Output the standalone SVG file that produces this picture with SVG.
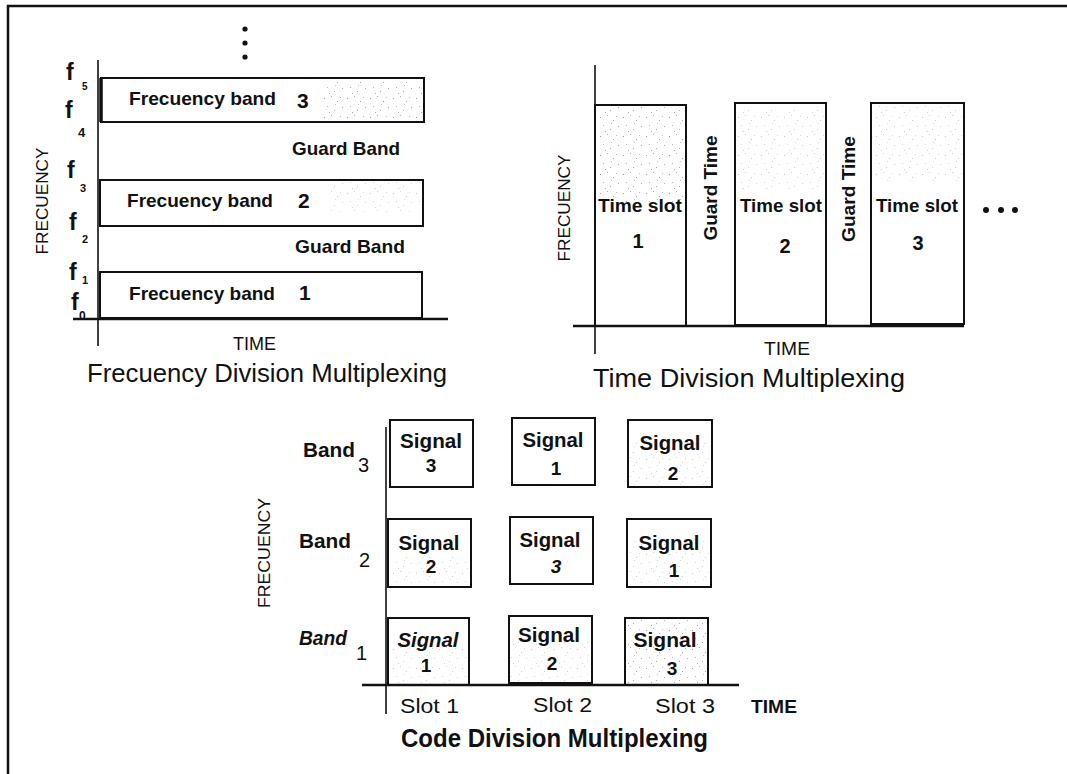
<svg xmlns="http://www.w3.org/2000/svg" width="1067" height="774" viewBox="0 0 1067 774">
<style>
.box{fill:none;stroke:#111;stroke-width:2}
.ax{stroke:#111;stroke-width:1.6;fill:none}
.axh{stroke:#111;stroke-width:2.6;fill:none}
.frame{stroke:#111;stroke-width:2.5;fill:none}
.b{font-family:"Liberation Sans",Arial,sans-serif;font-weight:bold;fill:#111}
.r{font-family:"Liberation Sans",Arial,sans-serif;fill:#111}
.spk{fill:url(#sp);stroke:none}
.spl{fill:url(#sp);stroke:none;opacity:0.55}
</style>
<defs>
<pattern id="sp" width="23" height="19" patternUnits="userSpaceOnUse">
<rect x="2" y="3" width="1" height="1" fill="#9a9a9a"/>
<rect x="9" y="1" width="1" height="1" fill="#b0b0b0"/>
<rect x="15" y="6" width="1" height="1" fill="#a0a0a0"/>
<rect x="20" y="12" width="1" height="1" fill="#aaa"/>
<rect x="5" y="11" width="1" height="1" fill="#b5b5b5"/>
<rect x="12" y="15" width="1" height="1" fill="#a5a5a5"/>
<rect x="18" y="2" width="1" height="1" fill="#bbb"/>
<rect x="7" y="17" width="1" height="1" fill="#aaa"/>
<rect x="13" y="9" width="1" height="1" fill="#c0c0c0"/>
</pattern>
</defs>

<g id="frame">
<polyline class="frame" points="8,774 8,6 1067,6"/>
</g>

<g id="axes">
<line class="ax" x1="98" y1="60" x2="98" y2="346"/>
<line class="axh" x1="73" y1="319" x2="448" y2="319"/>
<line class="ax" x1="595" y1="65" x2="595" y2="354"/>
<line class="axh" x1="573" y1="326" x2="964" y2="326"/>
<line class="ax" x1="386" y1="427" x2="386" y2="714"/>
<line class="axh" x1="362" y1="685" x2="739" y2="685"/>
</g>

<g id="fdm">
<g id="fdm-dots">
<circle cx="245" cy="29" r="2.6" fill="#111"/>
<circle cx="245" cy="43" r="2.6" fill="#111"/>
<circle cx="245" cy="57" r="2.6" fill="#111"/>
</g>
<g id="fdm-band3">
<rect class="spk" x="320" y="80" width="102" height="40"/>
<rect class="box" x="101" y="78" width="323" height="44"/>
<line x1="101" y1="78" x2="101" y2="122" stroke="#111" stroke-width="3.5"/>
<text class="b" x="129" y="105" font-size="19" textLength="147" lengthAdjust="spacingAndGlyphs">Frecuency band</text>
<text class="b" x="297" y="108" font-size="21">3</text>
</g>
<g id="fdm-guard2">
<text class="b" x="292" y="155" font-size="19" textLength="108" lengthAdjust="spacingAndGlyphs">Guard Band</text>
</g>
<g id="fdm-band2">
<rect class="spl" x="330" y="182" width="90" height="30"/>
<rect class="box" x="100" y="180" width="323" height="46"/>
<text class="b" x="127" y="207" font-size="19" textLength="146" lengthAdjust="spacingAndGlyphs">Frecuency band</text>
<text class="b" x="298" y="208" font-size="21">2</text>
</g>
<g id="fdm-guard1">
<text class="b" x="295" y="253" font-size="19" textLength="110" lengthAdjust="spacingAndGlyphs">Guard Band</text>
</g>
<g id="fdm-band1">
<rect class="box" x="100" y="272" width="322" height="46"/>
<text class="b" x="129" y="300" font-size="19" textLength="146" lengthAdjust="spacingAndGlyphs">Frecuency band</text>
<text class="b" x="299" y="300" font-size="21">1</text>
</g>
<g id="fdm-flabels">
<text class="b" x="66" y="80" font-size="23">f</text><text class="b" x="82" y="90" font-size="10">5</text>
<text class="b" x="65" y="118" font-size="23">f</text><text class="b" x="78" y="137" font-size="13">4</text>
<text class="b" x="67" y="178" font-size="23">f</text><text class="b" x="80" y="192" font-size="11">3</text>
<text class="b" x="69" y="230" font-size="23">f</text><text class="b" x="82" y="243" font-size="11">2</text>
<text class="b" x="69" y="280" font-size="23">f</text><text class="b" x="82" y="284" font-size="11">1</text>
<text class="b" x="71" y="310" font-size="23">f</text><text class="b" x="79" y="320" font-size="12">0</text>
</g>
<text class="r" transform="translate(42,201) rotate(-90)" y="6" text-anchor="middle" font-size="17" textLength="107" lengthAdjust="spacingAndGlyphs">FRECUENCY</text>
<text class="r" x="233" y="350" font-size="18" textLength="43" lengthAdjust="spacingAndGlyphs">TIME</text>
<text class="r" x="87" y="382" font-size="26" textLength="360" lengthAdjust="spacingAndGlyphs">Frecuency Division Multiplexing</text>
</g>

<g id="tdm">
<g id="tdm-slot1">
<rect class="spk" x="597" y="107" width="87" height="95"/>
<rect class="spk" x="600" y="110" width="80" height="40"/>
<rect class="box" x="595" y="105" width="91" height="221"/>
<text class="b" x="640" y="212" font-size="19" text-anchor="middle" textLength="84" lengthAdjust="spacingAndGlyphs">Time slot</text>
<text class="b" x="638" y="248" font-size="20" text-anchor="middle">1</text>
</g>
<g id="tdm-guard1">
<text class="b" transform="translate(710,188) rotate(-90)" y="7" text-anchor="middle" font-size="19" textLength="105" lengthAdjust="spacingAndGlyphs">Guard Time</text>
</g>
<g id="tdm-slot2">
<rect class="spl" x="737" y="110" width="87" height="80"/>
<rect class="box" x="735" y="103" width="91" height="222"/>
<text class="b" x="781" y="212" font-size="19" text-anchor="middle" textLength="82" lengthAdjust="spacingAndGlyphs">Time slot</text>
<text class="b" x="785" y="253" font-size="20" text-anchor="middle">2</text>
</g>
<g id="tdm-guard2">
<text class="b" transform="translate(848,189) rotate(-90)" y="7" text-anchor="middle" font-size="19" textLength="106" lengthAdjust="spacingAndGlyphs">Guard Time</text>
</g>
<g id="tdm-slot3">
<rect class="spl" x="873" y="106" width="89" height="75"/>
<rect class="box" x="871" y="103" width="93" height="221"/>
<text class="b" x="917" y="212" font-size="19" text-anchor="middle" textLength="82" lengthAdjust="spacingAndGlyphs">Time slot</text>
<text class="b" x="918" y="250" font-size="20" text-anchor="middle">3</text>
</g>
<g id="tdm-more">
<circle cx="986" cy="210" r="3" fill="#111"/>
<circle cx="1001" cy="210" r="3" fill="#111"/>
<circle cx="1015" cy="210" r="3" fill="#111"/>
</g>
<text class="r" transform="translate(564,208) rotate(-90)" y="6" text-anchor="middle" font-size="17" textLength="107" lengthAdjust="spacingAndGlyphs">FRECUENCY</text>
<text class="r" x="764" y="355" font-size="18" textLength="46" lengthAdjust="spacingAndGlyphs">TIME</text>
<text class="r" x="593" y="387" font-size="26" textLength="312" lengthAdjust="spacingAndGlyphs">Time Division Multiplexing</text>
</g>

<g id="cdm">
<g id="cdm-b3s1">
<rect class="box" x="390" y="420" width="83" height="67"/>
<text class="b" x="431" y="448" font-size="20" text-anchor="middle" textLength="62" lengthAdjust="spacingAndGlyphs">Signal</text>
<text class="b" x="431" y="472" font-size="19" text-anchor="middle">3</text>
</g>
<g id="cdm-b3s2">
<rect class="box" x="512" y="418" width="83" height="67"/>
<text class="b" x="553" y="447" font-size="20" text-anchor="middle" textLength="61" lengthAdjust="spacingAndGlyphs">Signal</text>
<text class="b" x="556" y="475" font-size="19" text-anchor="middle">1</text>
</g>
<g id="cdm-b3s3">
<rect class="spl" x="630" y="440" width="80" height="45"/>
<rect class="box" x="628" y="420" width="84" height="67"/>
<text class="b" x="670" y="450" font-size="20" text-anchor="middle" textLength="61" lengthAdjust="spacingAndGlyphs">Signal</text>
<text class="b" x="673" y="480" font-size="19" text-anchor="middle">2</text>
</g>
<g id="cdm-b2s1">
<rect class="spl" x="390" y="555" width="78" height="30"/>
<rect class="box" x="388" y="519" width="83" height="68"/>
<text class="b" x="429" y="550" font-size="20" text-anchor="middle" textLength="61" lengthAdjust="spacingAndGlyphs">Signal</text>
<text class="b" x="431" y="573" font-size="19" text-anchor="middle">2</text>
</g>
<g id="cdm-b2s2">
<rect class="box" x="510" y="517" width="83" height="67"/>
<text class="b" x="550" y="547" font-size="20" text-anchor="middle" textLength="61" lengthAdjust="spacingAndGlyphs">Signal</text>
<text class="b" x="556" y="573" font-size="19" text-anchor="middle" font-style="italic">3</text>
</g>
<g id="cdm-b2s3">
<rect class="spl" x="629" y="540" width="80" height="45"/>
<rect class="box" x="627" y="519" width="84" height="68"/>
<text class="b" x="669" y="550" font-size="20" text-anchor="middle" textLength="61" lengthAdjust="spacingAndGlyphs">Signal</text>
<text class="b" x="674" y="577" font-size="19" text-anchor="middle">1</text>
</g>
<g id="cdm-b1s1">
<rect class="spl" x="390" y="640" width="77" height="43"/>
<rect class="box" x="388" y="618" width="81" height="67"/>
<text class="b" x="428" y="647" font-size="20" text-anchor="middle" font-style="italic" textLength="61" lengthAdjust="spacingAndGlyphs">Signal</text>
<text class="b" x="426" y="672" font-size="19" text-anchor="middle">1</text>
</g>
<g id="cdm-b1s2">
<rect class="spl" x="511" y="640" width="79" height="41"/>
<rect class="box" x="509" y="616" width="83" height="67"/>
<text class="b" x="549" y="642" font-size="20" text-anchor="middle" textLength="62" lengthAdjust="spacingAndGlyphs">Signal</text>
<text class="b" x="552" y="670" font-size="19" text-anchor="middle">2</text>
</g>
<g id="cdm-b1s3">
<rect class="spk" x="627" y="620" width="79" height="63"/>
<rect class="spk" x="650" y="650" width="55" height="33"/>
<rect class="box" x="625" y="618" width="83" height="67"/>
<text class="b" x="665" y="647" font-size="20" text-anchor="middle" textLength="63" lengthAdjust="spacingAndGlyphs">Signal</text>
<text class="b" x="672" y="675" font-size="19" text-anchor="middle">3</text>
</g>
<g id="cdm-bands">
<text class="b" x="303" y="457" font-size="20" textLength="52" lengthAdjust="spacingAndGlyphs">Band</text><text class="r" x="358" y="472" font-size="20">3</text>
<text class="b" x="299" y="548" font-size="20" textLength="52" lengthAdjust="spacingAndGlyphs">Band</text><text class="r" x="359" y="567" font-size="20">2</text>
<text class="b" x="299" y="645" font-size="20" font-style="italic" textLength="48" lengthAdjust="spacingAndGlyphs">Band</text><text class="r" x="356" y="660" font-size="20">1</text>
</g>
<g id="cdm-slots">
<text class="r" x="400" y="713" font-size="20" textLength="59" lengthAdjust="spacingAndGlyphs">Slot 1</text>
<text class="r" x="533" y="712" font-size="20" textLength="59" lengthAdjust="spacingAndGlyphs">Slot 2</text>
<text class="r" x="655" y="713" font-size="20" textLength="60" lengthAdjust="spacingAndGlyphs">Slot 3</text>
<text class="b" x="751" y="713" font-size="18" textLength="46" lengthAdjust="spacingAndGlyphs">TIME</text>
</g>
<text class="r" transform="translate(264,553) rotate(-90)" y="6" text-anchor="middle" font-size="17" textLength="110" lengthAdjust="spacingAndGlyphs">FRECUENCY</text>
<text class="b" x="401" y="747" font-size="25" textLength="307" lengthAdjust="spacingAndGlyphs">Code Division Multiplexing</text>
</g>
</svg>
